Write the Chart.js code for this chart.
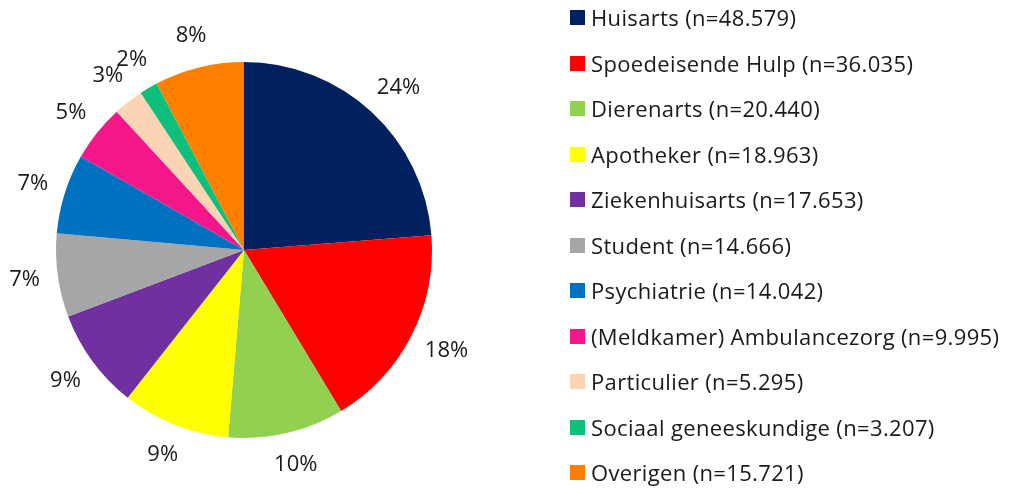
<!DOCTYPE html>
<html>
<head>
<meta charset="utf-8">
<script src="https://cdn.jsdelivr.net/npm/chart.js@4/dist/chart.umd.min.js"></script>
<style>
  html, body { margin: 0; padding: 0; background: #fff; }
  #wrap { position: relative; width: 1010px; height: 488px; overflow: hidden; }
  #chart { position: absolute; left: 0; top: 0; }
  #legend { position: absolute; left: 570px; top: 0; font-family: "Open Sans", "Noto Sans", sans-serif; font-size: 22px; letter-spacing: 0.35px; color: #1a1a1a; }
  .item { position: absolute; left: 0; white-space: nowrap; height: 30px; line-height: 30px; }
  .box { position: absolute; left: 0; top: 8px; width: 15px; height: 15px; }
  .txt { position: absolute; left: 21px; top: 0; }
</style>
</head>
<body>
<div id="wrap">
  <canvas id="chart" width="1010" height="488"></canvas>
  <div id="legend"></div>
</div>
<script>
const categories = [
  "Huisarts", "Spoedeisende Hulp", "Dierenarts", "Apotheker", "Ziekenhuisarts",
  "Student", "Psychiatrie", "(Meldkamer) Ambulancezorg", "Particulier",
  "Sociaal geneeskundige", "Overigen"
];
const counts = [48579, 36035, 20440, 18963, 17653, 14666, 14042, 9995, 5295, 3207, 15721];
const countLabels = ["48.579", "36.035", "20.440", "18.963", "17.653", "14.666", "14.042", "9.995", "5.295", "3.207", "15.721"];
const colors = [
  "#002060", "#FF0000", "#92D050", "#FFFF00", "#7030A0",
  "#A6A6A6", "#0070C0", "#F5168A", "#FBD4B4", "#0CBF7A", "#FF8000"
];

// HTML legend built from the arrays
const legendEl = document.getElementById('legend');
const rowY = 17, rowStep = 45.5;
categories.forEach((c, i) => {
  const it = document.createElement('div');
  it.className = 'item';
  it.style.top = (rowY + i * rowStep - 15) + 'px';
  const b = document.createElement('div');
  b.className = 'box';
  b.style.background = colors[i];
  const t = document.createElement('span');
  t.className = 'txt';
  t.textContent = c + ' (n=' + countLabels[i] + ')';
  it.appendChild(b); it.appendChild(t);
  legendEl.appendChild(it);
});

const outsideLabels = {
  id: 'outsideLabels',
  afterDatasetsDraw(chart) {
    const ctx = chart.ctx;
    const meta = chart.getDatasetMeta(0);
    const data = chart.data.datasets[0].data;
    const total = data.reduce((a, b) => a + b, 0);
    ctx.save();
    ctx.font = '22px "Open Sans", "Noto Sans", sans-serif';
    ctx.fillStyle = '#1a1a1a';
    ctx.textAlign = 'center';
    ctx.textBaseline = 'middle';
    const gap = 18, halfH = 14.5;
    meta.data.forEach((arc, i) => {
      const p = arc.getProps(['x', 'y', 'startAngle', 'endAngle', 'outerRadius'], true);
      const mid = (p.startAngle + p.endAngle) / 2;
      const ux = Math.cos(mid), uy = Math.sin(mid);
      const pct = Math.round(data[i] / total * 100) + '%';
      const w = ctx.measureText(pct).width;
      const r = p.outerRadius + gap;
      const x = p.x + ux * r + ux * w / 2;
      const y = p.y + uy * r + uy * halfH;
      ctx.fillText(pct, x, y);
    });
    ctx.restore();
  }
};

new Chart(document.getElementById('chart'), {
  type: 'pie',
  data: {
    labels: categories,
    datasets: [{
      data: counts,
      backgroundColor: colors,
      borderWidth: 0
    }]
  },
  options: {
    responsive: false,
    animation: false,
    layout: { padding: { left: 56, right: 578, top: 62, bottom: 50 } },
    plugins: {
      legend: { display: false },
      tooltip: { enabled: false }
    }
  },
  plugins: [outsideLabels]
});
</script>
</body>
</html>
